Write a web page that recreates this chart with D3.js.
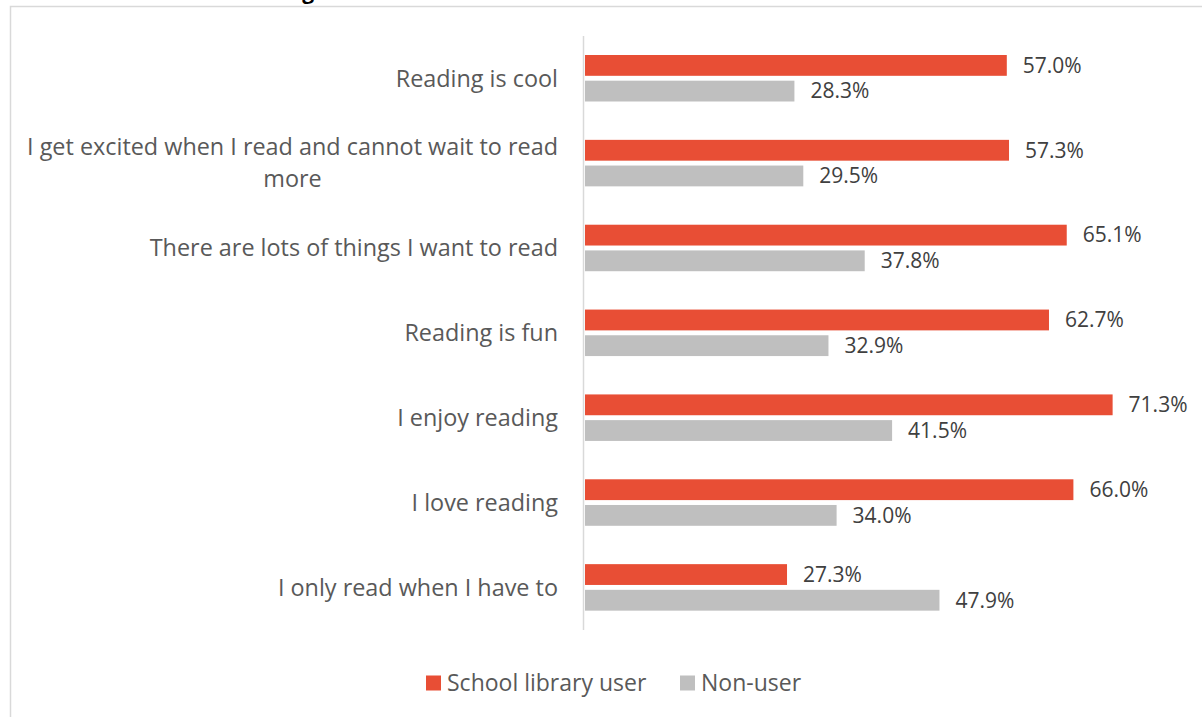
<!DOCTYPE html>
<html>
<script src="https://d3js.org/d3.v7.min.js"></script>
<style>
    body { margin: 0; background: #fff; }
    svg { display: block; font-family: "Open Sans", sans-serif; }
</style>
<body>
<svg width="1202" height="717"></svg>
<script>
    // chart data, top to bottom
    const categories = [
        "Reading is cool",
        "I get excited when I read and cannot wait to read|more",
        "There are lots of things I want to read",
        "Reading is fun",
        "I enjoy reading",
        "I love reading",
        "I only read when I have to"
    ];
    const seriesNames = ["School library user", "Non-user"];
    const libraryUser = [57.0, 57.3, 65.1, 62.7, 71.3, 66.0, 27.3];
    const nonUser = [28.3, 29.5, 37.8, 32.9, 41.5, 34.0, 47.9];
    const colors = ["#E84E35", "#BFBFBF"];

    const svg = d3.select("svg");

    // frame and cut-off title from the page
    svg.append("path")
        .attr("d", "M10.5,717 V6.5 H1202")
        .attr("fill", "none")
        .attr("stroke", "#d9d9d9")
        .attr("stroke-width", 1.5);
    svg.append("text")
        .attr("x", 314).attr("y", -1)
        .attr("text-anchor", "end")
        .attr("font-weight", "bold")
        .attr("font-size", 21)
        .attr("fill", "#000")
        .text("Attitudes towards reading");

    const x = d3.scaleLinear().domain([0, 10]).range([585, 659]);

    const y = d3.scaleBand()
        .domain(d3.range(categories.length))
        .range([36, 630]);

    const inner = d3.scaleBand()
        .domain([0, 1])
        .range([19, 65.5])
        .paddingInner(0.19);

    const rows = categories.map((c, i) => ({ label: c, values: [libraryUser[i], nonUser[i]] }));

    const g = svg.append("g");

    const row = g.selectAll("g.row")
        .data(rows)
        .enter().append("g")
        .attr("class", "row")
        .attr("transform", (d, i) => "translate(0," + y(i) + ")");

    row.selectAll("rect")
        .data(d => d.values)
        .enter().append("rect")
        .attr("x", x(0))
        .attr("y", (d, j) => inner(j))
        .attr("width", d => x(d) - x(0))
        .attr("height", inner.bandwidth())
        .attr("fill", (d, j) => colors[j]);

    row.selectAll("text.val")
        .data(d => d.values)
        .enter().append("text")
        .attr("class", "val")
        .attr("x", d => x(d) + 16)
        .attr("y", (d, j) => inner(j) + inner.bandwidth() / 2)
        .attr("dy", "0.35em")
        .attr("font-size", 21)
        .attr("fill", "#404040")
        .text(d => d.toFixed(1) + "%");

    // category labels (multi-line ones are centred like Excel does)
    const labelRight = 558;
    row.each(function (d) {
        const lines = d.label.split("|");
        const t = d3.select(this).append("text")
            .attr("font-size", 23.4)
            .attr("fill", "#595959");
        const mid = y.bandwidth() / 2;
        const lh = 32;
        lines.forEach((ln, k) => {
            t.append("tspan")
                .attr("y", mid + (k - (lines.length - 1) / 2) * lh)
                .attr("dy", "0.35em")
                .text(ln);
        });
        if (lines.length === 1) {
            t.attr("text-anchor", "end").selectAll("tspan").attr("x", labelRight);
        } else {
            let w = 0;
            t.selectAll("tspan").each(function () { w = Math.max(w, this.getComputedTextLength()); });
            t.attr("text-anchor", "middle").selectAll("tspan").attr("x", labelRight - w / 2);
        }
    });

    // vertical axis line
    svg.append("line")
        .attr("x1", 583.5).attr("x2", 583.5)
        .attr("y1", 36).attr("y2", 630)
        .attr("stroke", "#d9d9d9")
        .attr("stroke-width", 1.5);

    // legend
    const legend = svg.append("g").attr("transform", "translate(426,683)");
    const items = legend.selectAll("g")
        .data(seriesNames)
        .enter().append("g")
        .attr("transform", (d, i) => "translate(" + (i === 0 ? 0 : 254) + ",0)");
    items.append("rect")
        .attr("x", 0).attr("y", -7.5)
        .attr("width", 15).attr("height", 15)
        .attr("fill", (d, i) => colors[i]);
    items.append("text")
        .attr("x", 21).attr("dy", "0.35em")
        .attr("font-size", 23)
        .attr("fill", "#595959")
        .text(d => d);
</script>
</body>
</html>
